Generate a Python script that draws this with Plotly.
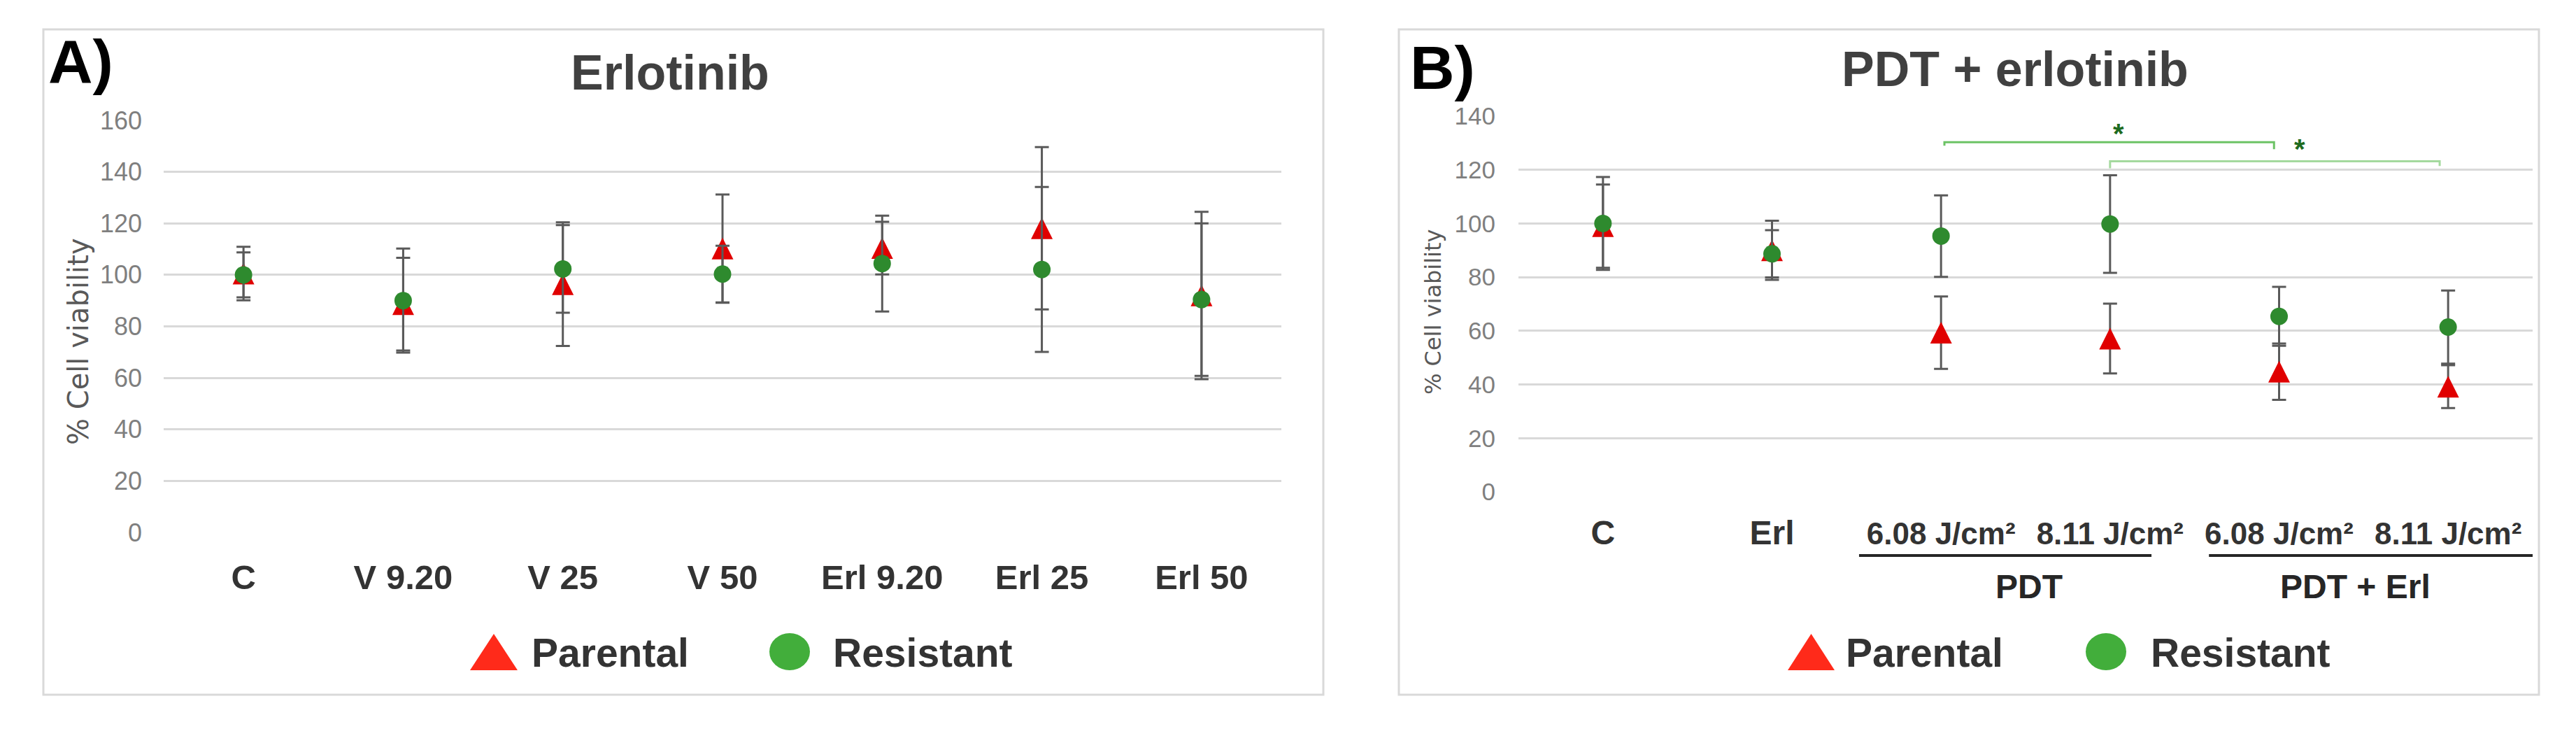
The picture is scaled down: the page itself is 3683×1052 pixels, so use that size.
import plotly.graph_objects as go

W, H = 3683, 1052
# the page body adds an 8 px offset; compensate so positions match the photo
OX, OY = 8, 8

# ---------------- data ----------------
cats_a = ["C", "V 9.20", "V 25", "V 50", "Erl 9.20", "Erl 25", "Erl 50"]
parental_a = [100.5, 88.6, 96.4, 110.2, 110.4, 118.1, 92.0]
parental_a_err = [10.4, 18.0, 24.0, 21.0, 10.2, 31.5, 32.5]
resistant_a = [100.0, 90.0, 102.3, 100.3, 104.4, 102.1, 90.4]
resistant_a_err = [8.7, 20.2, 17.0, 11.0, 18.6, 32.0, 29.6]

cats_b = ["C", "Erl", "6.08 J/cm²", "8.11 J/cm²", "6.08 J/cm²", "8.11 J/cm²"]
parental_b = [99.0, 90.0, 59.3, 57.1, 44.8, 39.2]
parental_b_err = [15.5, 11.0, 13.5, 13.0, 10.5, 8.0]
resistant_b = [100.0, 88.7, 95.3, 99.8, 65.4, 61.4]
resistant_b_err = [17.3, 8.8, 15.2, 18.2, 11.0, 13.6]

groups_b = ["PDT", "PDT + Erl"]
group_centers_b = [2.52, 4.45]
group_spans_b = [(1.515, 3.245), (3.585, 5.546)]

# significance brackets: (x_start, x_end, y_level, left_drop, right_drop, star_x, star_y)
brackets_b = [(2.02, 3.97, 130.3, 1.3, 2.6, 3.05, 136.1),
              (3.00, 4.95, 123.2, 2.6, 1.8, 4.12, 130.3)]

# ---------------- style ----------------
RED = "#E00000"
GREEN = "#2E8A2E"
ERR = "#5A5A5A"
GRID = "#D9D9D9"
TXT = "#333333"
BOLD_FONT = "Liberation Sans, Arial, sans-serif"
TICK_FONT = "Liberation Sans Narrow, Liberation Sans, Arial, sans-serif"
TITLE_FONT = "DejaVu Sans, sans-serif"

def px(x):
    return (x - OX) / W

def py(y):
    return 1 - (y - OY) / H

fig = go.Figure()

TRI = 31
CIR = 25

def add_series(xs, par, par_err, res, res_err, xa, ya):
    fig.add_trace(go.Scatter(
        x=xs, y=par, mode="markers", xaxis=xa, yaxis=ya, showlegend=False, name="Parental",
        marker=dict(symbol="arrow-down", angle=180, standoff=TRI / 2, size=TRI, color=RED,
                    line=dict(width=0)),
        error_y=dict(type="data", array=par_err, visible=True, color=ERR, thickness=3, width=10)))
    fig.add_trace(go.Scatter(
        x=xs, y=res, mode="markers", xaxis=xa, yaxis=ya, showlegend=False, name="Resistant",
        marker=dict(symbol="circle", size=CIR, color=GREEN, line=dict(width=0)),
        error_y=dict(type="data", array=res_err, visible=True, color=ERR, thickness=3, width=10)))

xa_idx = list(range(len(cats_a)))
xb_idx = list(range(len(cats_b)))
add_series(xa_idx, parental_a, parental_a_err, resistant_a, resistant_a_err, "x", "y")
add_series(xb_idx, parental_b, parental_b_err, resistant_b, resistant_b_err, "x2", "y2")

ticktext_b = []
for i, c in enumerate(cats_b):
    if i < 2:
        ticktext_b.append("<span style='font-size:48px'>" + c + "</span>")
    else:
        ticktext_b.append(c)

fig.update_layout(
    template="none",
    width=W, height=H, autosize=False,
    margin=dict(l=0, r=0, t=0, b=0, pad=0, autoexpand=False),
    paper_bgcolor="white", plot_bgcolor="white", showlegend=False,
    xaxis=dict(domain=[px(234), px(1832)], range=[-0.5, 6.5], tickvals=xa_idx, ticktext=cats_a,
               automargin=False, showgrid=False, zeroline=False, showline=False, ticks="",
               tickfont=dict(family=BOLD_FONT, size=49, color=TXT, weight="bold"),
               ticklabelstandoff=31),
    yaxis=dict(domain=[py(761), py(172)], range=[0, 160], dtick=20, showgrid=True,
               automargin=False, gridcolor=GRID, gridwidth=3, zeroline=False, showline=False, ticks="",
               tickfont=dict(family=TICK_FONT, size=36, color="#7F7F7F"),
               ticklabelstandoff=30),
    xaxis2=dict(domain=[px(2171), px(3621)], range=[-0.5, 5.5], tickvals=xb_idx, ticktext=ticktext_b,
                automargin=False, anchor="y2", showgrid=False, zeroline=False, showline=False, ticks="",
                tickfont=dict(family=BOLD_FONT, size=44, color=TXT, weight="bold"),
                ticklabelstandoff=30),
    yaxis2=dict(domain=[py(703), py(166)], range=[0, 140], dtick=20, anchor="x2", showgrid=True,
                automargin=False, gridcolor=GRID, gridwidth=3, zeroline=False, showline=False, ticks="",
                tickfont=dict(family=TICK_FONT, size=35, color="#7F7F7F"),
                ticklabelstandoff=32),
)

shapes = []
# panel boxes
shapes.append(dict(type="rect", xref="paper", yref="paper", x0=px(62), x1=px(1892), y0=py(993), y1=py(42),
                   line=dict(color="#D9D9D9", width=3), layer="below"))
shapes.append(dict(type="rect", xref="paper", yref="paper", x0=px(2000), x1=px(3630), y0=py(993), y1=py(42),
                   line=dict(color="#D9D9D9", width=3), layer="below"))

# group underlines in panel B
for (a, b) in group_spans_b:
    shapes.append(dict(type="line", xref="x2", yref="paper", x0=a, x1=b, y0=py(794), y1=py(794),
                       line=dict(color="#262626", width=4)))

# significance brackets
bracket_colors = ["#6CC365", "#A4D99E"]
for (x0, x1, yl, dl, dr, sx, sy), col in zip(brackets_b, bracket_colors):
    path = "M %f,%f L %f,%f L %f,%f L %f,%f" % (x0, yl - dl, x0, yl, x1, yl, x1, yl - dr)
    shapes.append(dict(type="path", xref="x2", yref="y2", path=path, line=dict(color=col, width=3)))

# legend symbols
def legend_symbols(tri, circ):
    tx0, tx1, ty0, ty1 = tri
    shapes.append(dict(type="path", xref="paper", yref="paper",
                       path="M %f,%f L %f,%f L %f,%f Z" % (px(tx0), py(ty1), px(tx1), py(ty1),
                                                           px((tx0 + tx1) / 2), py(ty0)),
                       fillcolor="#FF2A1A", line=dict(width=0)))
    cx0, cx1, cy0, cy1 = circ
    shapes.append(dict(type="circle", xref="paper", yref="paper", x0=px(cx0), x1=px(cx1),
                       y0=py(cy1), y1=py(cy0), fillcolor="#42AE3B", line=dict(width=0)))

legend_symbols((672, 740, 906, 958), (1100, 1158, 905, 958))
legend_symbols((2556, 2623, 906, 958), (2982, 3040, 905, 958))

annotations = []

def text(x, y, s, size, color=TXT, family=BOLD_FONT, bold=True, xanchor="center", angle=0, xref="paper"):
    annotations.append(dict(x=x, y=y, xref=xref, yref="paper", text=s, showarrow=False,
                            xanchor=xanchor, yanchor="middle", textangle=angle,
                            font=dict(family=family, size=size, color=color,
                                      weight="bold" if bold else "normal")))

# panel letters & titles
text(px(115), py(88), "A)", 88, color="#000000")
text(px(2062), py(96), "B)", 88, color="#000000")
text(px(958), py(104), "Erlotinib", 70, color="#404040")
text(px(2881), py(99), "PDT + erlotinib", 70, color="#404040")

# y titles
text(px(112), py(488), "% Cell viability", 40, color="#595959", family=TITLE_FONT, bold=False, angle=-90)
text(px(2049), py(446), "% Cell viability", 32, color="#595959", family=TITLE_FONT, bold=False, angle=-90)

# group labels
for g, c in zip(groups_b, group_centers_b):
    text(c, py(838), g, 48, color="#262626", xref="x2")

# legend texts
for x, s in [(758, "Parental"), (1189, "Resistant"), (2637, "Parental"), (3073, "Resistant")]:
    text(px(x), py(933), s, 57, xanchor="left")

# stars
for (x0, x1, yl, dl, dr, sx, sy) in brackets_b:
    annotations.append(dict(x=sx, y=sy, xref="x2", yref="y2", text="*", showarrow=False,
                            xanchor="center", yanchor="middle", yshift=-10,
                            font=dict(family=BOLD_FONT, size=40, color="#1E6B1E", weight="bold")))

fig.update_layout(shapes=shapes, annotations=annotations)

fig.write_html("out.html")
